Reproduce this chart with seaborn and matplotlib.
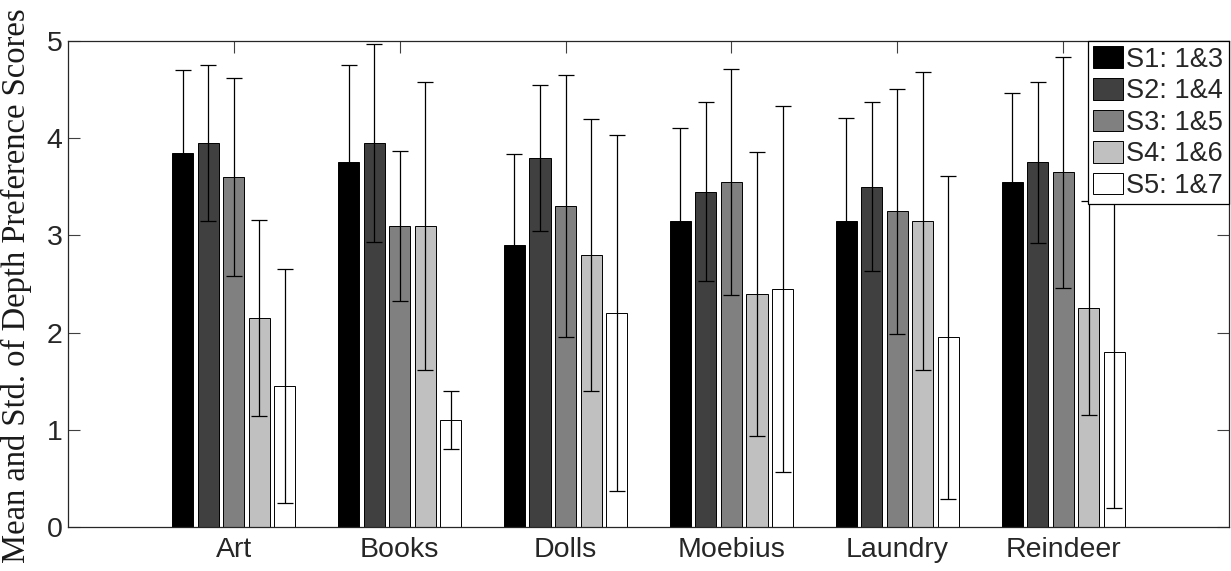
import pandas as pd
import matplotlib
matplotlib.use('Agg')
import matplotlib.pyplot as plt
import matplotlib.patches as mpatches
import seaborn as sns

# categories and series
objects = ['Art', 'Books', 'Dolls', 'Moebius', 'Laundry', 'Reindeer']
series = ['S1: 1&3', 'S2: 1&4', 'S3: 1&5', 'S4: 1&6', 'S5: 1&7']
colors = ['#000000', '#404040', '#808080', '#c0c0c0', '#ffffff']

# mean scores per series (one value per object)
mean_s1 = [3.85, 3.75, 2.90, 3.15, 3.15, 3.55]
mean_s2 = [3.95, 3.95, 3.80, 3.45, 3.50, 3.75]
mean_s3 = [3.60, 3.10, 3.30, 3.55, 3.25, 3.65]
mean_s4 = [2.15, 3.10, 2.80, 2.40, 3.15, 2.25]
mean_s5 = [1.45, 1.10, 2.20, 2.45, 1.95, 1.80]

# standard deviations per series
std_s1 = [0.85, 1.00, 0.94, 0.96, 1.06, 0.92]
std_s2 = [0.80, 1.02, 0.75, 0.92, 0.87, 0.83]
std_s3 = [1.02, 0.77, 1.35, 1.16, 1.26, 1.19]
std_s4 = [1.01, 1.48, 1.40, 1.46, 1.53, 1.10]
std_s5 = [1.20, 0.30, 1.83, 1.88, 1.66, 1.60]

means = [mean_s1, mean_s2, mean_s3, mean_s4, mean_s5]
stds = [std_s1, std_s2, std_s3, std_s4, std_s5]

rows = []
for s, m_list in zip(series, means):
    for obj, m in zip(objects, m_list):
        rows.append({'object': obj, 'series': s, 'mean': m})
df = pd.DataFrame(rows)

sns.set_style('ticks')
plt.rcParams['font.family'] = ['Liberation Sans', 'DejaVu Sans']

fig = plt.figure(figsize=(12.31, 5.71), dpi=100)
ax = fig.add_axes([0.0552, 0.0771, 0.9432, 0.8511])

sns.barplot(data=df, x='object', y='mean', hue='series', order=objects, hue_order=series,
            palette=colors, width=0.77, gap=0.175, errorbar=None, edgecolor='black',
            linewidth=0.7, saturation=1, legend=False, ax=ax)

# error bars at the centre of each bar
for cont, m_list, s_list in zip(ax.containers, means, stds):
    xs = [b.get_x() + b.get_width() / 2 for b in cont]
    ax.errorbar(xs, m_list, yerr=s_list, fmt='none', ecolor='black',
                elinewidth=0.9, capsize=6, capthick=0.9, zorder=3)

ax.set_xlim(-1, 6)
ax.set_ylim(0, 5)
ax.set_yticks([0, 1, 2, 3, 4, 5])
ax.set_xlabel('')
ax.set_ylabel('Mean and Std. of Depth Preference Scores', family=['Liberation Serif', 'DejaVu Serif'],
              fontsize=23.5, color='#1a1a1a')
ax.yaxis.set_label_coords(-0.031, 0.497)

ax.set_axisbelow(True)
ax.tick_params(axis='both', direction='in', length=8.5, width=0.8, color='#404040',
               labelsize=20.5, labelcolor='#262626', top=True, right=True)
ax.tick_params(axis='y', pad=4)
ax.tick_params(axis='x', pad=7)
for sp in ax.spines.values():
    sp.set_visible(True)
    sp.set_color('#262626')
    sp.set_linewidth(0.9)

handles = [mpatches.Patch(facecolor=c, edgecolor='black', linewidth=0.7) for c in colors]
leg = ax.legend(handles, series, loc='upper right', bbox_to_anchor=(1, 1), borderaxespad=0,
                fontsize=19.5, frameon=True, fancybox=False, framealpha=1, edgecolor='black',
                handlelength=1.1, handleheight=0.85, handletextpad=0.12, labelspacing=0.2,
                borderpad=0.2)
leg.get_frame().set_linewidth(0.9)
leg.set_zorder(10)

plt.savefig('out.png', dpi=100)
